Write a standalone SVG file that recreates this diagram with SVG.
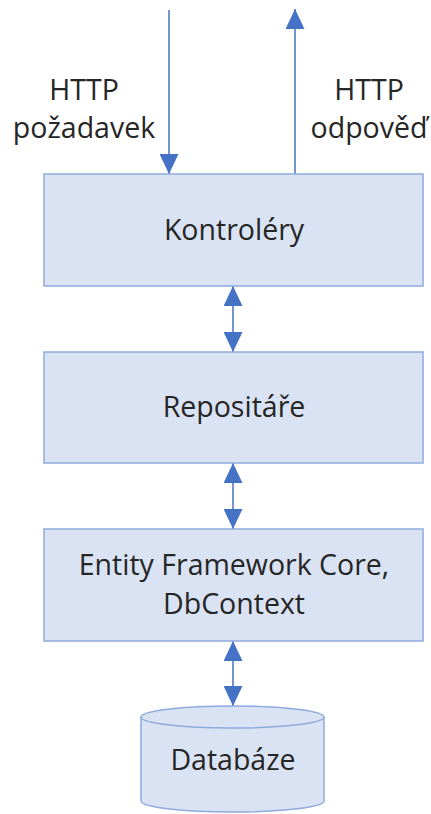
<svg xmlns="http://www.w3.org/2000/svg" width="431" height="814" viewBox="0 0 431 814">
  <style>
    .box { fill: #dae3f3; stroke: #8faadc; stroke-width: 1.5; }
    .lbl { font-family: "Open Sans", "Liberation Sans", sans-serif; font-size: 28.5px; fill: #262626; text-anchor: middle; }
    .conn { stroke: #4472c4; stroke-width: 1.5; fill: none; }
  </style>
  <defs>
    <marker id="head" viewBox="0 0 20 19" refX="20" refY="9.5" markerWidth="20" markerHeight="19" markerUnits="userSpaceOnUse" orient="auto-start-reverse">
      <path d="M0,0 L20,9.5 L0,19 Z" fill="#4472c4"/>
    </marker>
  </defs>

  <rect width="431" height="814" fill="#ffffff"/>

  <g id="connectors">
    <line class="conn" x1="169" y1="10" x2="169" y2="174" marker-end="url(#head)"/>
    <line class="conn" x1="295" y1="174" x2="295" y2="9" marker-end="url(#head)"/>
    <line class="conn" x1="233" y1="286" x2="233" y2="352" marker-start="url(#head)" marker-end="url(#head)"/>
    <line class="conn" x1="233" y1="463" x2="233" y2="529" marker-start="url(#head)" marker-end="url(#head)"/>
    <line class="conn" x1="233" y1="641" x2="233" y2="706" marker-start="url(#head)" marker-end="url(#head)"/>
  </g>

  <g id="http-request">
    <text class="lbl" x="84" y="100">HTTP</text>
    <text class="lbl" x="84" y="138">požadavek</text>
  </g>

  <g id="http-response">
    <text class="lbl" x="369" y="100">HTTP</text>
    <text class="lbl" x="369" y="138">odpověď</text>
  </g>

  <g id="controllers">
    <rect class="box" x="44" y="174" width="379" height="112"/>
    <text class="lbl" x="234" y="240">Kontroléry</text>
  </g>

  <g id="repositories">
    <rect class="box" x="44" y="352" width="379" height="111"/>
    <text class="lbl" x="234" y="417">Repositáře</text>
  </g>

  <g id="ef-core">
    <rect class="box" x="44" y="529" width="379" height="112"/>
    <text class="lbl" x="234" y="575">Entity Framework Core,</text>
    <text class="lbl" x="234" y="614">DbContext</text>
  </g>

  <g id="database">
    <path class="box" d="M141,717 L141,801 A91.5,11 0 0 0 324,801 L324,717 A91.5,11 0 0 0 141,717 Z"/>
    <path class="box" d="M141,717 A91.5,11 0 0 0 324,717" fill="none"/>
    <text class="lbl" x="233" y="770">Databáze</text>
  </g>
</svg>
